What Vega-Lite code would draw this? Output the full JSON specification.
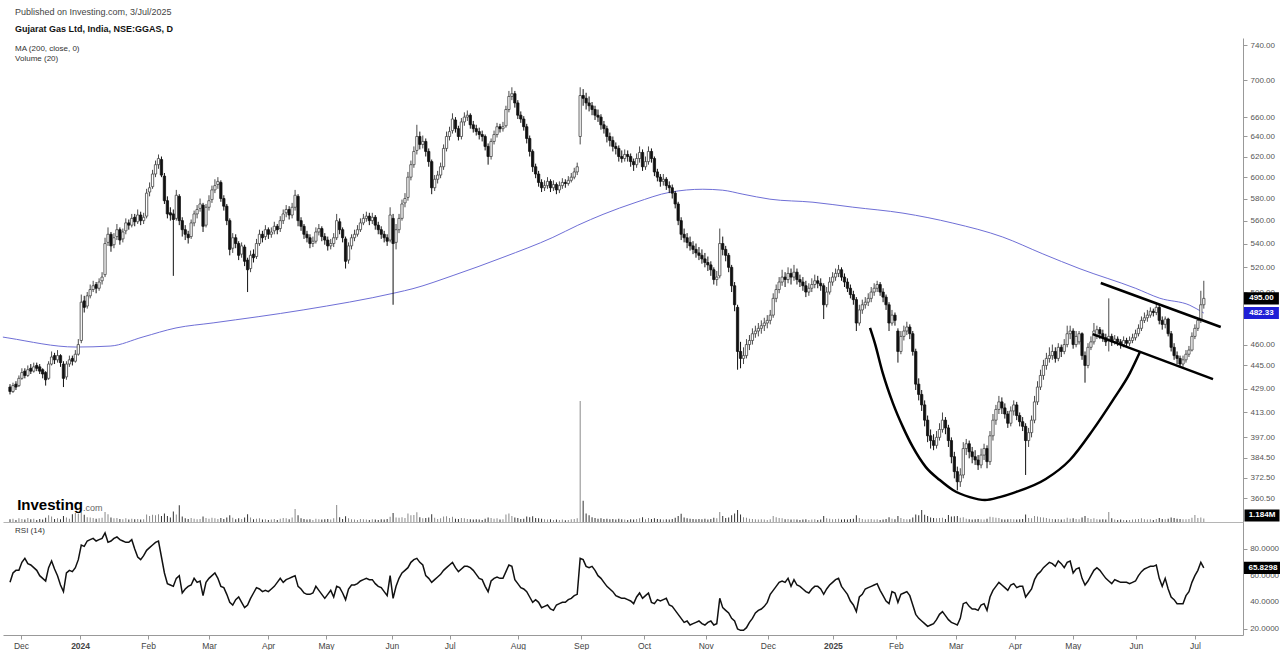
{
"$schema":"https://vega.github.io/schema/vega-lite/v6.json",
"background":"white",
"padding":{"left":0,"top":8,"right":0,"bottom":0},
"bounds":"flush",
"spacing":0,
"title":{"text":"Published on Investing.com, 3/Jul/2025","subtitle":"Gujarat Gas Ltd, India, NSE:GGAS, D","anchor":"start","frame":"group","dx":12,"fontSize":9,"fontWeight":"normal","color":"#444444","subtitleFontSize":9,"subtitleFontWeight":"bold","subtitleColor":"#111111","subtitlePadding":8,"offset":4,"font":"Liberation Sans","subtitleFont":"Liberation Sans"},
"config":{"font":"Liberation Sans","view":{"stroke":null},"axis":{"labelFont":"Liberation Sans","grid":false,"labelOverlap":false,"labelBound":false},"scale":{"continuousPadding":0}},
"datasets":{
"px":[
{"i":0,"o":430,"h":432,"l":425,"c":427,"v":900,"r":55},
{"i":1,"o":427,"h":433,"l":426,"c":431,"v":1100,"r":62},
{"i":2,"o":432,"h":434,"l":428,"c":430,"v":700,"r":64},
{"i":3,"o":431,"h":438,"l":430,"c":436,"v":1200,"r":64},
{"i":4,"o":436,"h":443,"l":435,"c":440,"v":1000,"r":70},
{"i":5,"o":441,"h":443,"l":436,"c":438,"v":800,"r":73},
{"i":6,"o":438,"h":445,"l":437,"c":442,"v":1300,"r":69},
{"i":7,"o":443,"h":446,"l":439,"c":441,"v":900,"r":68},
{"i":8,"o":441,"h":447,"l":440,"c":444,"v":1100,"r":66},
{"i":9,"o":445,"h":447,"l":441,"c":443,"v":700,"r":64},
{"i":10,"o":444,"h":446,"l":439,"c":441,"v":1000,"r":60},
{"i":11,"o":442,"h":443,"l":436,"c":439,"v":800,"r":58},
{"i":12,"o":440,"h":441,"l":431,"c":435,"v":1400,"r":56},
{"i":13,"o":436,"h":448,"l":435,"c":446,"v":2200,"r":66},
{"i":14,"o":446,"h":455,"l":445,"c":451,"v":1800,"r":71},
{"i":15,"o":452,"h":454,"l":446,"c":449,"v":1000,"r":65},
{"i":16,"o":449,"h":456,"l":447,"c":452,"v":1200,"r":60},
{"i":17,"o":452,"h":453,"l":444,"c":447,"v":900,"r":53},
{"i":18,"o":446,"h":448,"l":430,"c":436,"v":2000,"r":48},
{"i":19,"o":437,"h":448,"l":435,"c":446,"v":1500,"r":62},
{"i":20,"o":446,"h":452,"l":444,"c":449,"v":1100,"r":64},
{"i":21,"o":450,"h":452,"l":445,"c":448,"v":2600,"r":63},
{"i":22,"o":448,"h":456,"l":447,"c":453,"v":3000,"r":66},
{"i":23,"o":453,"h":464,"l":452,"c":460,"v":2800,"r":72},
{"i":24,"o":463,"h":498,"l":461,"c":492,"v":3400,"r":83},
{"i":25,"o":493,"h":497,"l":484,"c":488,"v":2400,"r":82},
{"i":26,"o":489,"h":500,"l":487,"c":497,"v":1600,"r":86},
{"i":27,"o":497,"h":506,"l":495,"c":502,"v":1500,"r":87},
{"i":28,"o":502,"h":509,"l":500,"c":505,"v":1300,"r":88},
{"i":29,"o":506,"h":508,"l":499,"c":503,"v":1100,"r":86},
{"i":30,"o":503,"h":511,"l":501,"c":508,"v":1200,"r":87},
{"i":31,"o":509,"h":516,"l":506,"c":512,"v":1400,"r":88},
{"i":32,"o":514,"h":545,"l":512,"c":540,"v":3300,"r":92},
{"i":33,"o":541,"h":554,"l":538,"c":548,"v":2600,"r":85},
{"i":34,"o":548,"h":550,"l":533,"c":538,"v":1500,"r":86},
{"i":35,"o":539,"h":549,"l":536,"c":545,"v":1200,"r":88},
{"i":36,"o":546,"h":557,"l":543,"c":552,"v":1300,"r":89},
{"i":37,"o":552,"h":554,"l":539,"c":543,"v":1000,"r":87},
{"i":38,"o":544,"h":553,"l":541,"c":550,"v":900,"r":86},
{"i":39,"o":551,"h":562,"l":548,"c":558,"v":1200,"r":85},
{"i":40,"o":558,"h":561,"l":552,"c":556,"v":800,"r":85},
{"i":41,"o":556,"h":566,"l":554,"c":562,"v":1100,"r":87},
{"i":42,"o":563,"h":566,"l":555,"c":559,"v":900,"r":80},
{"i":43,"o":559,"h":570,"l":557,"c":565,"v":1000,"r":74},
{"i":44,"o":565,"h":568,"l":556,"c":560,"v":800,"r":72},
{"i":45,"o":560,"h":567,"l":557,"c":563,"v":900,"r":75},
{"i":46,"o":564,"h":589,"l":562,"c":585,"v":2500,"r":79},
{"i":47,"o":586,"h":595,"l":582,"c":590,"v":2000,"r":81},
{"i":48,"o":591,"h":607,"l":589,"c":603,"v":2400,"r":83},
{"i":49,"o":603,"h":616,"l":600,"c":612,"v":2200,"r":85},
{"i":50,"o":612,"h":622,"l":608,"c":618,"v":2600,"r":86},
{"i":51,"o":617,"h":620,"l":600,"c":602,"v":2000,"r":74},
{"i":52,"o":601,"h":604,"l":575,"c":578,"v":2800,"r":62},
{"i":53,"o":578,"h":582,"l":562,"c":566,"v":2000,"r":54},
{"i":54,"o":567,"h":572,"l":560,"c":565,"v":1500,"r":53},
{"i":55,"o":566,"h":570,"l":513,"c":561,"v":3500,"r":52},
{"i":56,"o":562,"h":588,"l":560,"c":583,"v":2500,"r":58},
{"i":57,"o":582,"h":584,"l":556,"c":560,"v":5500,"r":60},
{"i":58,"o":560,"h":563,"l":546,"c":552,"v":1800,"r":47},
{"i":59,"o":552,"h":556,"l":543,"c":548,"v":1200,"r":50},
{"i":60,"o":548,"h":551,"l":540,"c":545,"v":1000,"r":52},
{"i":61,"o":546,"h":561,"l":544,"c":558,"v":1300,"r":53},
{"i":62,"o":558,"h":569,"l":555,"c":566,"v":1100,"r":58},
{"i":63,"o":566,"h":574,"l":562,"c":570,"v":900,"r":55},
{"i":64,"o":571,"h":580,"l":568,"c":575,"v":1000,"r":56},
{"i":65,"o":574,"h":576,"l":550,"c":555,"v":1800,"r":45},
{"i":66,"o":556,"h":575,"l":554,"c":572,"v":1300,"r":55},
{"i":67,"o":572,"h":583,"l":569,"c":578,"v":1100,"r":58},
{"i":68,"o":579,"h":592,"l":576,"c":588,"v":1400,"r":60},
{"i":69,"o":588,"h":598,"l":585,"c":592,"v":1200,"r":62},
{"i":70,"o":593,"h":600,"l":589,"c":596,"v":1000,"r":58},
{"i":71,"o":595,"h":597,"l":577,"c":580,"v":1300,"r":52},
{"i":72,"o":580,"h":583,"l":569,"c":573,"v":1000,"r":51},
{"i":73,"o":573,"h":575,"l":556,"c":560,"v":1500,"r":46},
{"i":74,"o":560,"h":562,"l":530,"c":535,"v":2200,"r":40},
{"i":75,"o":536,"h":549,"l":532,"c":545,"v":1400,"r":38},
{"i":76,"o":545,"h":548,"l":536,"c":540,"v":900,"r":42},
{"i":77,"o":540,"h":542,"l":526,"c":530,"v":1200,"r":44},
{"i":78,"o":531,"h":541,"l":528,"c":538,"v":1000,"r":40},
{"i":79,"o":537,"h":539,"l":521,"c":525,"v":1500,"r":36},
{"i":80,"o":526,"h":528,"l":500,"c":518,"v":2600,"r":38},
{"i":81,"o":519,"h":534,"l":516,"c":530,"v":1500,"r":43},
{"i":82,"o":531,"h":535,"l":524,"c":528,"v":900,"r":47},
{"i":83,"o":529,"h":544,"l":527,"c":540,"v":1100,"r":51},
{"i":84,"o":540,"h":552,"l":538,"c":548,"v":1200,"r":50},
{"i":85,"o":548,"h":551,"l":541,"c":545,"v":800,"r":48},
{"i":86,"o":546,"h":556,"l":543,"c":552,"v":900,"r":49},
{"i":87,"o":552,"h":554,"l":544,"c":548,"v":700,"r":48},
{"i":88,"o":548,"h":554,"l":545,"c":550,"v":800,"r":50},
{"i":89,"o":551,"h":559,"l":548,"c":555,"v":1000,"r":52},
{"i":90,"o":555,"h":557,"l":548,"c":552,"v":700,"r":55},
{"i":91,"o":553,"h":564,"l":550,"c":560,"v":1100,"r":58},
{"i":92,"o":560,"h":570,"l":557,"c":566,"v":1300,"r":55},
{"i":93,"o":567,"h":574,"l":563,"c":570,"v":1200,"r":57},
{"i":94,"o":570,"h":573,"l":561,"c":565,"v":900,"r":58},
{"i":95,"o":565,"h":576,"l":562,"c":572,"v":1500,"r":59},
{"i":96,"o":572,"h":588,"l":569,"c":583,"v":4300,"r":60},
{"i":97,"o":582,"h":584,"l":555,"c":560,"v":2200,"r":52},
{"i":98,"o":560,"h":563,"l":551,"c":555,"v":1200,"r":50},
{"i":99,"o":555,"h":557,"l":544,"c":548,"v":1000,"r":47},
{"i":100,"o":548,"h":551,"l":541,"c":545,"v":800,"r":46},
{"i":101,"o":545,"h":548,"l":536,"c":540,"v":900,"r":46},
{"i":102,"o":540,"h":546,"l":537,"c":542,"v":700,"r":47},
{"i":103,"o":542,"h":554,"l":540,"c":550,"v":1100,"r":52},
{"i":104,"o":550,"h":557,"l":547,"c":553,"v":900,"r":49},
{"i":105,"o":553,"h":555,"l":542,"c":546,"v":800,"r":46},
{"i":106,"o":546,"h":549,"l":539,"c":543,"v":900,"r":43},
{"i":107,"o":543,"h":546,"l":534,"c":538,"v":1000,"r":46},
{"i":108,"o":538,"h":544,"l":535,"c":540,"v":800,"r":49},
{"i":109,"o":540,"h":549,"l":537,"c":545,"v":1200,"r":44},
{"i":110,"o":545,"h":566,"l":543,"c":560,"v":5600,"r":52},
{"i":111,"o":559,"h":562,"l":548,"c":552,"v":1600,"r":51},
{"i":112,"o":552,"h":554,"l":541,"c":545,"v":1000,"r":47},
{"i":113,"o":544,"h":546,"l":519,"c":525,"v":1900,"r":42},
{"i":114,"o":526,"h":541,"l":523,"c":538,"v":1200,"r":50},
{"i":115,"o":538,"h":548,"l":535,"c":545,"v":900,"r":53},
{"i":116,"o":545,"h":552,"l":542,"c":548,"v":800,"r":53},
{"i":117,"o":548,"h":556,"l":546,"c":552,"v":700,"r":54},
{"i":118,"o":552,"h":562,"l":550,"c":558,"v":1000,"r":56},
{"i":119,"o":558,"h":566,"l":556,"c":562,"v":900,"r":57},
{"i":120,"o":562,"h":568,"l":559,"c":564,"v":800,"r":58},
{"i":121,"o":564,"h":567,"l":556,"c":560,"v":700,"r":57},
{"i":122,"o":560,"h":567,"l":557,"c":563,"v":900,"r":57},
{"i":123,"o":563,"h":565,"l":552,"c":556,"v":800,"r":54},
{"i":124,"o":556,"h":559,"l":548,"c":552,"v":700,"r":52},
{"i":125,"o":552,"h":555,"l":544,"c":548,"v":900,"r":51},
{"i":126,"o":548,"h":551,"l":541,"c":545,"v":800,"r":48},
{"i":127,"o":545,"h":548,"l":538,"c":542,"v":1000,"r":45},
{"i":128,"o":543,"h":572,"l":541,"c":565,"v":1700,"r":60},
{"i":129,"o":562,"h":566,"l":490,"c":540,"v":3000,"r":43},
{"i":130,"o":541,"h":557,"l":535,"c":552,"v":1500,"r":52},
{"i":131,"o":552,"h":566,"l":549,"c":562,"v":1400,"r":58},
{"i":132,"o":562,"h":579,"l":560,"c":575,"v":1600,"r":62},
{"i":133,"o":576,"h":585,"l":572,"c":580,"v":1300,"r":64},
{"i":134,"o":581,"h":605,"l":578,"c":600,"v":2800,"r":66},
{"i":135,"o":600,"h":616,"l":597,"c":612,"v":2200,"r":70},
{"i":136,"o":612,"h":630,"l":609,"c":625,"v":2300,"r":72},
{"i":137,"o":626,"h":652,"l":622,"c":640,"v":3200,"r":73},
{"i":138,"o":640,"h":645,"l":627,"c":632,"v":1600,"r":70},
{"i":139,"o":632,"h":641,"l":628,"c":635,"v":1200,"r":68},
{"i":140,"o":635,"h":638,"l":620,"c":625,"v":1300,"r":60},
{"i":141,"o":625,"h":628,"l":610,"c":615,"v":1500,"r":58},
{"i":142,"o":615,"h":617,"l":584,"c":590,"v":2600,"r":55},
{"i":143,"o":590,"h":602,"l":587,"c":598,"v":1400,"r":57},
{"i":144,"o":598,"h":606,"l":594,"c":602,"v":1000,"r":59},
{"i":145,"o":602,"h":614,"l":599,"c":610,"v":1200,"r":61},
{"i":146,"o":610,"h":632,"l":607,"c":628,"v":1800,"r":64},
{"i":147,"o":628,"h":645,"l":625,"c":640,"v":1900,"r":66},
{"i":148,"o":640,"h":650,"l":636,"c":645,"v":1300,"r":68},
{"i":149,"o":646,"h":664,"l":643,"c":658,"v":1700,"r":70},
{"i":150,"o":657,"h":660,"l":644,"c":648,"v":1100,"r":66},
{"i":151,"o":648,"h":651,"l":636,"c":640,"v":1000,"r":63},
{"i":152,"o":640,"h":659,"l":637,"c":655,"v":1300,"r":65},
{"i":153,"o":655,"h":665,"l":651,"c":660,"v":1200,"r":67},
{"i":154,"o":660,"h":667,"l":656,"c":662,"v":1000,"r":67},
{"i":155,"o":662,"h":664,"l":648,"c":652,"v":900,"r":66},
{"i":156,"o":652,"h":656,"l":644,"c":648,"v":800,"r":64},
{"i":157,"o":648,"h":652,"l":641,"c":645,"v":900,"r":61},
{"i":158,"o":645,"h":649,"l":637,"c":642,"v":800,"r":58},
{"i":159,"o":642,"h":646,"l":635,"c":640,"v":700,"r":57},
{"i":160,"o":640,"h":642,"l":626,"c":630,"v":1100,"r":52},
{"i":161,"o":630,"h":633,"l":612,"c":620,"v":1500,"r":48},
{"i":162,"o":620,"h":638,"l":617,"c":635,"v":1300,"r":56},
{"i":163,"o":635,"h":646,"l":632,"c":642,"v":1100,"r":58},
{"i":164,"o":642,"h":654,"l":639,"c":650,"v":1200,"r":59},
{"i":165,"o":650,"h":653,"l":644,"c":648,"v":800,"r":58},
{"i":166,"o":648,"h":655,"l":645,"c":650,"v":900,"r":58},
{"i":167,"o":651,"h":672,"l":649,"c":668,"v":2500,"r":63},
{"i":168,"o":668,"h":688,"l":665,"c":682,"v":2800,"r":68},
{"i":169,"o":682,"h":692,"l":678,"c":685,"v":2000,"r":67},
{"i":170,"o":685,"h":688,"l":670,"c":675,"v":1500,"r":57},
{"i":171,"o":675,"h":678,"l":658,"c":662,"v":1300,"r":54},
{"i":172,"o":662,"h":666,"l":654,"c":658,"v":1000,"r":51},
{"i":173,"o":658,"h":661,"l":646,"c":650,"v":1100,"r":50},
{"i":174,"o":650,"h":653,"l":633,"c":638,"v":1800,"r":48},
{"i":175,"o":638,"h":641,"l":620,"c":625,"v":1600,"r":44},
{"i":176,"o":625,"h":627,"l":605,"c":610,"v":1900,"r":40},
{"i":177,"o":610,"h":613,"l":599,"c":603,"v":1300,"r":42},
{"i":178,"o":603,"h":606,"l":591,"c":595,"v":1200,"r":40},
{"i":179,"o":595,"h":598,"l":586,"c":590,"v":1100,"r":36},
{"i":180,"o":590,"h":597,"l":587,"c":592,"v":900,"r":37},
{"i":181,"o":592,"h":600,"l":589,"c":596,"v":800,"r":38},
{"i":182,"o":596,"h":598,"l":586,"c":590,"v":900,"r":35},
{"i":183,"o":590,"h":597,"l":587,"c":593,"v":700,"r":34},
{"i":184,"o":593,"h":595,"l":584,"c":588,"v":800,"r":38},
{"i":185,"o":588,"h":596,"l":585,"c":592,"v":700,"r":39},
{"i":186,"o":592,"h":599,"l":589,"c":595,"v":800,"r":40},
{"i":187,"o":595,"h":598,"l":590,"c":594,"v":600,"r":40},
{"i":188,"o":594,"h":601,"l":592,"c":597,"v":700,"r":42},
{"i":189,"o":597,"h":604,"l":595,"c":600,"v":900,"r":43},
{"i":190,"o":600,"h":609,"l":598,"c":605,"v":1000,"r":45},
{"i":191,"o":605,"h":614,"l":602,"c":610,"v":1200,"r":46},
{"i":192,"o":640,"h":692,"l":632,"c":683,"v":40000,"r":73},
{"i":193,"o":683,"h":690,"l":672,"c":680,"v":7000,"r":72},
{"i":194,"o":680,"h":686,"l":668,"c":675,"v":2800,"r":67},
{"i":195,"o":675,"h":682,"l":666,"c":672,"v":2200,"r":66},
{"i":196,"o":672,"h":676,"l":662,"c":668,"v":1600,"r":67},
{"i":197,"o":668,"h":672,"l":657,"c":662,"v":1300,"r":64},
{"i":198,"o":662,"h":668,"l":655,"c":660,"v":1100,"r":60},
{"i":199,"o":660,"h":663,"l":647,"c":652,"v":1200,"r":58},
{"i":200,"o":652,"h":656,"l":643,"c":648,"v":1000,"r":55},
{"i":201,"o":648,"h":651,"l":634,"c":640,"v":1100,"r":52},
{"i":202,"o":640,"h":644,"l":630,"c":636,"v":900,"r":50},
{"i":203,"o":636,"h":640,"l":625,"c":630,"v":1000,"r":48},
{"i":204,"o":630,"h":634,"l":622,"c":628,"v":800,"r":45},
{"i":205,"o":628,"h":631,"l":615,"c":620,"v":1100,"r":44},
{"i":206,"o":620,"h":626,"l":614,"c":618,"v":900,"r":43},
{"i":207,"o":618,"h":627,"l":615,"c":622,"v":800,"r":43},
{"i":208,"o":622,"h":626,"l":615,"c":620,"v":700,"r":42},
{"i":209,"o":620,"h":623,"l":610,"c":615,"v":900,"r":41},
{"i":210,"o":615,"h":618,"l":606,"c":612,"v":800,"r":39},
{"i":211,"o":612,"h":623,"l":609,"c":618,"v":1000,"r":44},
{"i":212,"o":618,"h":630,"l":614,"c":624,"v":1200,"r":47},
{"i":213,"o":624,"h":627,"l":606,"c":610,"v":1600,"r":43},
{"i":214,"o":610,"h":620,"l":607,"c":615,"v":900,"r":45},
{"i":215,"o":615,"h":630,"l":612,"c":625,"v":1300,"r":47},
{"i":216,"o":625,"h":628,"l":614,"c":618,"v":1000,"r":40},
{"i":217,"o":618,"h":620,"l":601,"c":605,"v":1200,"r":39},
{"i":218,"o":605,"h":608,"l":596,"c":600,"v":1000,"r":42},
{"i":219,"o":600,"h":603,"l":591,"c":596,"v":900,"r":41},
{"i":220,"o":596,"h":603,"l":592,"c":598,"v":800,"r":42},
{"i":221,"o":598,"h":600,"l":588,"c":592,"v":900,"r":43},
{"i":222,"o":592,"h":596,"l":585,"c":590,"v":800,"r":38},
{"i":223,"o":590,"h":593,"l":580,"c":585,"v":1000,"r":37},
{"i":224,"o":585,"h":587,"l":571,"c":575,"v":1400,"r":34},
{"i":225,"o":575,"h":577,"l":556,"c":560,"v":2000,"r":31},
{"i":226,"o":560,"h":563,"l":543,"c":548,"v":2700,"r":28},
{"i":227,"o":548,"h":553,"l":541,"c":545,"v":1500,"r":25},
{"i":228,"o":545,"h":549,"l":536,"c":541,"v":1200,"r":26},
{"i":229,"o":541,"h":546,"l":534,"c":538,"v":1100,"r":23},
{"i":230,"o":538,"h":542,"l":531,"c":535,"v":1000,"r":24},
{"i":231,"o":535,"h":540,"l":528,"c":532,"v":900,"r":25},
{"i":232,"o":532,"h":537,"l":526,"c":530,"v":1000,"r":26},
{"i":233,"o":530,"h":535,"l":523,"c":527,"v":900,"r":24},
{"i":234,"o":527,"h":532,"l":520,"c":524,"v":1100,"r":23},
{"i":235,"o":524,"h":529,"l":517,"c":522,"v":800,"r":25},
{"i":236,"o":522,"h":525,"l":513,"c":518,"v":1000,"r":26},
{"i":237,"o":518,"h":520,"l":506,"c":510,"v":1400,"r":23},
{"i":238,"o":510,"h":517,"l":505,"c":512,"v":1200,"r":24},
{"i":239,"o":513,"h":553,"l":511,"c":540,"v":3300,"r":43},
{"i":240,"o":540,"h":546,"l":530,"c":535,"v":2000,"r":36},
{"i":241,"o":535,"h":538,"l":525,"c":530,"v":1300,"r":34},
{"i":242,"o":530,"h":532,"l":516,"c":520,"v":1500,"r":32},
{"i":243,"o":520,"h":522,"l":500,"c":505,"v":2200,"r":28},
{"i":244,"o":505,"h":508,"l":485,"c":490,"v":2800,"r":26},
{"i":245,"o":488,"h":490,"l":442,"c":455,"v":4000,"r":20},
{"i":246,"o":455,"h":462,"l":443,"c":450,"v":2500,"r":19},
{"i":247,"o":450,"h":458,"l":446,"c":452,"v":1600,"r":19},
{"i":248,"o":452,"h":464,"l":450,"c":460,"v":1400,"r":21},
{"i":249,"o":460,"h":467,"l":456,"c":463,"v":1100,"r":25},
{"i":250,"o":463,"h":472,"l":460,"c":468,"v":1000,"r":28},
{"i":251,"o":468,"h":474,"l":465,"c":470,"v":900,"r":32},
{"i":252,"o":470,"h":476,"l":466,"c":472,"v":800,"r":34},
{"i":253,"o":472,"h":478,"l":468,"c":474,"v":900,"r":35},
{"i":254,"o":474,"h":480,"l":470,"c":476,"v":800,"r":37},
{"i":255,"o":476,"h":482,"l":472,"c":478,"v":700,"r":40},
{"i":256,"o":478,"h":486,"l":475,"c":482,"v":900,"r":46},
{"i":257,"o":482,"h":499,"l":480,"c":495,"v":2000,"r":49},
{"i":258,"o":495,"h":506,"l":492,"c":502,"v":1600,"r":52},
{"i":259,"o":502,"h":512,"l":499,"c":508,"v":1300,"r":55},
{"i":260,"o":508,"h":518,"l":505,"c":512,"v":1200,"r":56},
{"i":261,"o":512,"h":516,"l":504,"c":510,"v":900,"r":55},
{"i":262,"o":510,"h":520,"l":507,"c":515,"v":1000,"r":58},
{"i":263,"o":515,"h":519,"l":506,"c":512,"v":800,"r":52},
{"i":264,"o":512,"h":522,"l":509,"c":516,"v":900,"r":57},
{"i":265,"o":516,"h":519,"l":506,"c":510,"v":800,"r":53},
{"i":266,"o":510,"h":514,"l":504,"c":508,"v":700,"r":52},
{"i":267,"o":508,"h":512,"l":501,"c":505,"v":800,"r":50},
{"i":268,"o":505,"h":509,"l":496,"c":500,"v":900,"r":48},
{"i":269,"o":500,"h":507,"l":497,"c":503,"v":700,"r":47},
{"i":270,"o":503,"h":511,"l":500,"c":506,"v":800,"r":50},
{"i":271,"o":506,"h":514,"l":503,"c":509,"v":900,"r":52},
{"i":272,"o":509,"h":513,"l":503,"c":507,"v":700,"r":52},
{"i":273,"o":507,"h":511,"l":501,"c":505,"v":800,"r":50},
{"i":274,"o":505,"h":507,"l":479,"c":490,"v":2000,"r":46},
{"i":275,"o":490,"h":504,"l":488,"c":500,"v":1200,"r":50},
{"i":276,"o":500,"h":512,"l":498,"c":508,"v":1100,"r":53},
{"i":277,"o":508,"h":516,"l":505,"c":512,"v":900,"r":55},
{"i":278,"o":512,"h":519,"l":509,"c":515,"v":1000,"r":57},
{"i":279,"o":515,"h":522,"l":512,"c":518,"v":1100,"r":58},
{"i":280,"o":518,"h":520,"l":509,"c":512,"v":800,"r":52},
{"i":281,"o":512,"h":515,"l":504,"c":508,"v":900,"r":49},
{"i":282,"o":508,"h":511,"l":500,"c":503,"v":800,"r":46},
{"i":283,"o":503,"h":506,"l":495,"c":498,"v":1000,"r":41},
{"i":284,"o":498,"h":501,"l":490,"c":494,"v":1100,"r":38},
{"i":285,"o":494,"h":496,"l":470,"c":476,"v":2200,"r":33},
{"i":286,"o":476,"h":490,"l":474,"c":486,"v":1300,"r":44},
{"i":287,"o":486,"h":494,"l":483,"c":490,"v":1000,"r":46},
{"i":288,"o":490,"h":496,"l":487,"c":492,"v":800,"r":50},
{"i":289,"o":492,"h":499,"l":489,"c":495,"v":900,"r":51},
{"i":290,"o":495,"h":504,"l":492,"c":500,"v":1000,"r":52},
{"i":291,"o":500,"h":507,"l":497,"c":503,"v":800,"r":53},
{"i":292,"o":503,"h":509,"l":500,"c":506,"v":900,"r":54},
{"i":293,"o":506,"h":508,"l":497,"c":500,"v":700,"r":49},
{"i":294,"o":500,"h":503,"l":492,"c":496,"v":800,"r":45},
{"i":295,"o":496,"h":498,"l":486,"c":490,"v":1000,"r":41},
{"i":296,"o":490,"h":492,"l":470,"c":476,"v":1600,"r":39},
{"i":297,"o":476,"h":486,"l":474,"c":482,"v":1100,"r":48},
{"i":298,"o":482,"h":484,"l":474,"c":478,"v":900,"r":47},
{"i":299,"o":470,"h":472,"l":447,"c":455,"v":2000,"r":40},
{"i":300,"o":455,"h":470,"l":453,"c":466,"v":1300,"r":46},
{"i":301,"o":466,"h":474,"l":463,"c":470,"v":1000,"r":47},
{"i":302,"o":470,"h":477,"l":467,"c":473,"v":900,"r":48},
{"i":303,"o":473,"h":475,"l":464,"c":468,"v":900,"r":45},
{"i":304,"o":468,"h":470,"l":452,"c":455,"v":1500,"r":38},
{"i":305,"o":455,"h":457,"l":428,"c":432,"v":2500,"r":31},
{"i":306,"o":432,"h":436,"l":421,"c":425,"v":2200,"r":28},
{"i":307,"o":425,"h":428,"l":414,"c":418,"v":4000,"r":26},
{"i":308,"o":418,"h":421,"l":404,"c":408,"v":2400,"r":24},
{"i":309,"o":408,"h":411,"l":394,"c":398,"v":2000,"r":22},
{"i":310,"o":398,"h":402,"l":390,"c":395,"v":1500,"r":23},
{"i":311,"o":395,"h":399,"l":389,"c":392,"v":1300,"r":24},
{"i":312,"o":392,"h":401,"l":390,"c":397,"v":1200,"r":27},
{"i":313,"o":397,"h":406,"l":395,"c":402,"v":1300,"r":31},
{"i":314,"o":402,"h":413,"l":400,"c":408,"v":1400,"r":33},
{"i":315,"o":408,"h":410,"l":399,"c":403,"v":1000,"r":30},
{"i":316,"o":403,"h":405,"l":391,"c":395,"v":2300,"r":27},
{"i":317,"o":395,"h":397,"l":381,"c":385,"v":1800,"r":25},
{"i":318,"o":385,"h":388,"l":372,"c":376,"v":1900,"r":24},
{"i":319,"o":376,"h":379,"l":365,"c":370,"v":2000,"r":23},
{"i":320,"o":370,"h":378,"l":367,"c":374,"v":1400,"r":28},
{"i":321,"o":374,"h":394,"l":372,"c":390,"v":1600,"r":39},
{"i":322,"o":390,"h":396,"l":386,"c":393,"v":1100,"r":40},
{"i":323,"o":393,"h":395,"l":384,"c":388,"v":900,"r":37},
{"i":324,"o":388,"h":391,"l":381,"c":385,"v":800,"r":35},
{"i":325,"o":385,"h":389,"l":380,"c":383,"v":900,"r":35},
{"i":326,"o":383,"h":386,"l":377,"c":380,"v":1000,"r":34},
{"i":327,"o":380,"h":390,"l":378,"c":386,"v":900,"r":38},
{"i":328,"o":386,"h":393,"l":383,"c":390,"v":800,"r":39},
{"i":329,"o":390,"h":392,"l":378,"c":382,"v":1100,"r":34},
{"i":330,"o":382,"h":401,"l":380,"c":398,"v":1700,"r":44},
{"i":331,"o":398,"h":412,"l":395,"c":408,"v":1600,"r":49},
{"i":332,"o":408,"h":418,"l":405,"c":415,"v":1400,"r":52},
{"i":333,"o":415,"h":424,"l":412,"c":420,"v":1300,"r":55},
{"i":334,"o":420,"h":423,"l":412,"c":416,"v":900,"r":53},
{"i":335,"o":416,"h":419,"l":409,"c":412,"v":800,"r":51},
{"i":336,"o":412,"h":414,"l":403,"c":406,"v":900,"r":49},
{"i":337,"o":406,"h":417,"l":404,"c":414,"v":1000,"r":53},
{"i":338,"o":414,"h":421,"l":411,"c":418,"v":900,"r":54},
{"i":339,"o":418,"h":420,"l":408,"c":411,"v":800,"r":51},
{"i":340,"o":411,"h":413,"l":404,"c":407,"v":900,"r":52},
{"i":341,"o":407,"h":410,"l":401,"c":404,"v":1000,"r":52},
{"i":342,"o":404,"h":406,"l":374,"c":395,"v":2500,"r":44},
{"i":343,"o":395,"h":403,"l":391,"c":400,"v":1300,"r":47},
{"i":344,"o":400,"h":411,"l":397,"c":408,"v":1200,"r":50},
{"i":345,"o":408,"h":424,"l":406,"c":420,"v":2000,"r":57},
{"i":346,"o":420,"h":434,"l":418,"c":430,"v":1800,"r":61},
{"i":347,"o":430,"h":442,"l":428,"c":438,"v":1600,"r":63},
{"i":348,"o":438,"h":449,"l":435,"c":445,"v":1500,"r":66},
{"i":349,"o":445,"h":454,"l":442,"c":450,"v":1300,"r":68},
{"i":350,"o":450,"h":458,"l":447,"c":452,"v":1100,"r":70},
{"i":351,"o":452,"h":460,"l":449,"c":455,"v":1000,"r":69},
{"i":352,"o":455,"h":458,"l":447,"c":450,"v":900,"r":67},
{"i":353,"o":450,"h":461,"l":448,"c":458,"v":1000,"r":71},
{"i":354,"o":458,"h":460,"l":451,"c":455,"v":800,"r":69},
{"i":355,"o":455,"h":464,"l":453,"c":460,"v":900,"r":66},
{"i":356,"o":460,"h":474,"l":458,"c":468,"v":1400,"r":70},
{"i":357,"o":468,"h":474,"l":464,"c":470,"v":1100,"r":71},
{"i":358,"o":470,"h":472,"l":457,"c":460,"v":1200,"r":62},
{"i":359,"o":460,"h":470,"l":458,"c":466,"v":1000,"r":65},
{"i":360,"o":462,"h":470,"l":460,"c":468,"v":900,"r":66},
{"i":361,"o":468,"h":469,"l":449,"c":452,"v":1500,"r":58},
{"i":362,"o":452,"h":455,"l":433,"c":445,"v":2000,"r":53},
{"i":363,"o":445,"h":461,"l":443,"c":458,"v":1300,"r":56},
{"i":364,"o":458,"h":466,"l":456,"c":462,"v":1000,"r":60},
{"i":365,"o":462,"h":476,"l":460,"c":470,"v":1200,"r":64},
{"i":366,"o":466,"h":474,"l":464,"c":471,"v":900,"r":66},
{"i":367,"o":471,"h":473,"l":464,"c":468,"v":800,"r":64},
{"i":368,"o":468,"h":471,"l":462,"c":465,"v":900,"r":61},
{"i":369,"o":465,"h":468,"l":459,"c":462,"v":800,"r":58},
{"i":370,"o":464,"h":495,"l":455,"c":466,"v":3300,"r":56},
{"i":371,"o":466,"h":468,"l":459,"c":462,"v":1200,"r":54},
{"i":372,"o":462,"h":467,"l":460,"c":464,"v":800,"r":57},
{"i":373,"o":464,"h":466,"l":459,"c":462,"v":700,"r":56},
{"i":374,"o":462,"h":464,"l":457,"c":460,"v":800,"r":55},
{"i":375,"o":460,"h":466,"l":458,"c":463,"v":700,"r":55},
{"i":376,"o":463,"h":465,"l":458,"c":461,"v":600,"r":55},
{"i":377,"o":461,"h":466,"l":459,"c":463,"v":700,"r":54},
{"i":378,"o":463,"h":468,"l":461,"c":465,"v":800,"r":55},
{"i":379,"o":465,"h":471,"l":463,"c":468,"v":900,"r":56},
{"i":380,"o":468,"h":475,"l":466,"c":472,"v":1000,"r":60},
{"i":381,"o":472,"h":481,"l":470,"c":478,"v":1200,"r":63},
{"i":382,"o":478,"h":484,"l":476,"c":480,"v":900,"r":65},
{"i":383,"o":480,"h":486,"l":477,"c":482,"v":800,"r":66},
{"i":384,"o":482,"h":488,"l":480,"c":485,"v":900,"r":67},
{"i":385,"o":485,"h":487,"l":481,"c":484,"v":700,"r":67},
{"i":386,"o":484,"h":492,"l":482,"c":488,"v":1000,"r":68},
{"i":387,"o":488,"h":490,"l":475,"c":478,"v":1300,"r":58},
{"i":388,"o":478,"h":481,"l":471,"c":475,"v":1000,"r":52},
{"i":389,"o":475,"h":481,"l":472,"c":479,"v":900,"r":58},
{"i":390,"o":479,"h":480,"l":466,"c":468,"v":1100,"r":50},
{"i":391,"o":468,"h":470,"l":455,"c":458,"v":1500,"r":44},
{"i":392,"o":458,"h":461,"l":449,"c":452,"v":1300,"r":42},
{"i":393,"o":452,"h":455,"l":446,"c":450,"v":1100,"r":39},
{"i":394,"o":450,"h":452,"l":444,"c":446,"v":1000,"r":39},
{"i":395,"o":446,"h":452,"l":444,"c":449,"v":900,"r":39},
{"i":396,"o":449,"h":456,"l":447,"c":453,"v":900,"r":45},
{"i":397,"o":453,"h":459,"l":451,"c":456,"v":1000,"r":48},
{"i":398,"o":456,"h":469,"l":455,"c":466,"v":1400,"r":55},
{"i":399,"o":466,"h":475,"l":464,"c":472,"v":2300,"r":60},
{"i":400,"o":472,"h":480,"l":470,"c":478,"v":1300,"r":64},
{"i":401,"o":478,"h":501,"l":476,"c":490,"v":1500,"r":70},
{"i":402,"o":490,"h":509,"l":487,"c":495,"v":1184,"r":65.8298}
],
"ma":[
{"i":-2.4,"m":465.5},{"i":-0.7,"m":464.9},{"i":22.2,"m":458.2},{"i":33.7,"m":458.9},{"i":44.8,"m":465.6},{"i":55.9,"m":472.3},{"i":68.4,"m":476.1},{"i":98.7,"m":486},{"i":130,"m":499.5},{"i":135.7,"m":502.7},{"i":149.2,"m":513.3},{"i":166,"m":528.3},{"i":182.8,"m":545.3},{"i":191.2,"m":555.9},{"i":199.7,"m":565.6},{"i":210.8,"m":576.5},{"i":222.2,"m":585.8},{"i":233.3,"m":588.6},{"i":240,"m":587.7},{"i":246.8,"m":584},{"i":255.9,"m":579.4},{"i":270.4,"m":576.6},{"i":283.8,"m":572.1},{"i":300.7,"m":566.7},{"i":317.5,"m":557.8},{"i":334.3,"m":545.6},{"i":347.8,"m":531.2},{"i":360.3,"m":518.8},{"i":379.1,"m":502.9},{"i":387.2,"m":495.1},{"i":397.3,"m":489.6},{"i":402,"m":483.6}
],
"tl":[
{"g":"u","i":367.3,"p":507.2},{"g":"u","i":407.7,"p":473.0},{"g":"l","i":364.6,"p":467.7},{"g":"l","i":405.1,"p":435.5}
],
"cup":[
{"i":289.6,"p":472.3},{"i":291.2,"p":461.2},{"i":293.9,"p":439.6},{"i":297.3,"p":419.2},{"i":300.7,"p":403.5},{"i":304.0,"p":391.0},{"i":308.4,"p":378.7},{"i":313.1,"p":371.0},{"i":317.5,"p":365.2},{"i":323.2,"p":361.1},{"i":328.3,"p":359.4},{"i":333.3,"p":361.1},{"i":337.7,"p":363.4},{"i":348.8,"p":371.6},{"i":356.9,"p":383.0},{"i":364.6,"p":401.6},{"i":371.4,"p":421.2},{"i":377.1,"p":439.6},{"i":380.5,"p":454.6}
],
"rl":[
{"i":417.6,"r":20,"t":"20.0000"},{"i":417.6,"r":40,"t":"40.0000"},{"i":417.6,"r":60,"t":"60.0000"},{"i":417.6,"r":80,"t":"80.0000"}
]
},
"vconcat":[
{
"width":1240,"height":484,
"layer":[
{
"layer":[
{"data":{"name":"px"},"mark":{"type":"bar","size":1},
"encoding":{
"x":{"field":"i","type":"quantitative","scale":{"domain":[-2.36,415.2],"nice":false,"zero":false,"padding":0},"axis":{"orient":"bottom","labels":false,"ticks":false,"domainColor":"#b5b5b5","title":null,"grid":false}},
"y":{"field":"v","type":"quantitative","scale":{"domain":[0,160000],"nice":false},"axis":null},
"color":{"condition":{"test":"datum.c >= datum.o","value":"#8a8a8a"},"value":"#333333"}}},
{"data":{"values":[{"i":421.6,"v":1184}]},"mark":{"type":"point","shape":"M-1.45,-0.5L1.45,-0.5L1.45,0.5L-1.45,0.5Z","size":583,"filled":true,"color":"#000000","opacity":1,"yOffset":-3},
"encoding":{"x":{"field":"i","type":"quantitative"},"y":{"field":"v","type":"quantitative"}}},
{"data":{"values":[{"i":421.6,"v":1184,"t":"1.184M"}]},"mark":{"type":"text","color":"#ffffff","fontSize":8,"fontWeight":"bold","align":"center","baseline":"middle","yOffset":-3},
"encoding":{"x":{"field":"i","type":"quantitative"},"y":{"field":"v","type":"quantitative"},"text":{"field":"t"}}}
]
},
{
"layer":[
{"data":{"name":"ma"},"mark":{"type":"line","color":"#6f6fd6","strokeWidth":1,"interpolate":"monotone"},
"encoding":{
"x":{"field":"i","type":"quantitative"},
"y":{"field":"m","type":"quantitative","scale":{"type":"log","domain":[347.1,748.3],"nice":false},
"axis":{"orient":"right","values":[360.5,372.5,384.5,397,413,429,445,460,500,520,540,560,580,600,620,640,660,700,740],"format":".2f","labelFontSize":8,"labelColor":"#555555","tickColor":"#999999","tickSize":4,"domainColor":"#999999","title":null,"grid":false,"labelPadding":3,"labelOverlap":false}}}},
{"data":{"name":"px"},"mark":{"type":"rule","strokeWidth":1},
"encoding":{"x":{"field":"i","type":"quantitative"},"y":{"field":"l","type":"quantitative"},"y2":{"field":"h"},
"color":{"condition":{"test":"datum.c >= datum.o","value":"#4a4a4a"},"value":"#111111"}}},
{"data":{"name":"px"},"mark":{"type":"bar","size":2.3,"strokeWidth":0.8},
"encoding":{"x":{"field":"i","type":"quantitative"},"y":{"field":"o","type":"quantitative"},"y2":{"field":"c"},
"fill":{"condition":{"test":"datum.c >= datum.o","value":"#ffffff"},"value":"#111111"},
"stroke":{"condition":{"test":"datum.c >= datum.o","value":"#444444"},"value":"#111111"}}},
{"data":{"name":"tl"},"mark":{"type":"line","color":"#000000","strokeWidth":2.5},
"encoding":{"x":{"field":"i","type":"quantitative"},"y":{"field":"p","type":"quantitative"},"detail":{"field":"g"}}},
{"data":{"name":"cup"},"mark":{"type":"line","color":"#000000","strokeWidth":2.5,"interpolate":"monotone"},
"encoding":{"x":{"field":"i","type":"quantitative"},"y":{"field":"p","type":"quantitative"}}},
{"data":{"values":[{"i":421.4,"p":495,"b":"#000000"},{"i":421.4,"p":483.6,"b":"#1f1fd6"}]},
"mark":{"type":"point","shape":"M-1.45,-0.5L1.45,-0.5L1.45,0.5L-1.45,0.5Z","size":583,"filled":true,"opacity":1},
"encoding":{"x":{"field":"i","type":"quantitative"},"y":{"field":"p","type":"quantitative"},"color":{"field":"b","type":"nominal","scale":null}}},
{"data":{"values":[{"i":421.4,"p":495,"t":"495.00"},{"i":421.4,"p":483.6,"t":"482.33"}]},
"mark":{"type":"text","color":"#ffffff","fontSize":8,"fontWeight":"bold","align":"center","baseline":"middle"},
"encoding":{"x":{"field":"i","type":"quantitative"},"y":{"field":"p","type":"quantitative"},"text":{"field":"t"}}},
{"data":{"values":[{"i":1.7,"p":735.3,"t":"MA (200, close, 0)"},{"i":1.7,"p":723.7,"t":"Volume (20)"}]},
"mark":{"type":"text","color":"#333333","fontSize":8,"align":"left","baseline":"middle"},
"encoding":{"x":{"field":"i","type":"quantitative"},"y":{"field":"p","type":"quantitative"},"text":{"field":"t"}}},
{"data":{"values":[{"i":2.4,"p":356.6,"t":"Investing"}]},
"mark":{"type":"text","color":"#000000","fontSize":15,"fontWeight":"bold","align":"left","baseline":"middle"},
"encoding":{"x":{"field":"i","type":"quantitative"},"y":{"field":"p","type":"quantitative"},"text":{"field":"t"}}},
{"data":{"values":[{"i":24.6,"p":354.8,"t":".com"}]},
"mark":{"type":"text","color":"#666666","fontSize":9,"align":"left","baseline":"middle"},
"encoding":{"x":{"field":"i","type":"quantitative"},"y":{"field":"p","type":"quantitative"},"text":{"field":"t"}}}
]
}
],
"resolve":{"scale":{"y":"independent"}}
},
{
"width":1240,"height":113,
"layer":[
{"data":{"name":"px"},"mark":{"type":"line","color":"#111111","strokeWidth":1.5},
"encoding":{
"x":{"field":"i","type":"quantitative","scale":{"domain":[-2.36,415.2],"nice":false,"zero":false,"padding":0},
"axis":{"orient":"bottom","values":[3.7,23.6,46.5,67,86.9,106.4,128.6,148.1,171,192.3,213.5,234.3,255.2,277.1,298.3,318.5,338.4,357.9,379.1,399],
"labelExpr":"['Dec','2024','Feb','Mar','Apr','May','Jun','Jul','Aug','Sep','Oct','Nov','Dec','2025','Feb','Mar','Apr','May','Jun','Jul'][indexof([3.7,23.6,46.5,67,86.9,106.4,128.6,148.1,171,192.3,213.5,234.3,255.2,277.1,298.3,318.5,338.4,357.9,379.1,399], datum.value)]",
"labelFontWeight":{"condition":{"test":"datum.value == 23.6 || datum.value == 277.1","value":"bold"},"value":"normal"},
"labelFontSize":8.5,"labelColor":"#444444","tickColor":"#999999","tickSize":4,"domainColor":"#999999","labelPadding":2,"title":null,"grid":false,"labelOverlap":false}},
"y":{"field":"r","type":"quantitative","scale":{"domain":[15.5,100.25],"nice":false,"zero":false},
"axis":{"orient":"right","values":[20,40,60,80],"labels":false,"tickColor":"#999999","tickSize":4,"domainColor":"#999999","title":null,"grid":false}}}},
{"data":{"name":"rl"},
"mark":{"type":"text","color":"#555555","fontSize":8,"align":"left","baseline":"middle"},
"encoding":{"x":{"field":"i","type":"quantitative"},"y":{"field":"r","type":"quantitative"},"text":{"field":"t"}}},
{"data":{"values":[{"i":1.7,"r":93.5,"t":"RSI (14)"}]},
"mark":{"type":"text","color":"#333333","fontSize":8,"align":"left","baseline":"middle"},
"encoding":{"x":{"field":"i","type":"quantitative"},"y":{"field":"r","type":"quantitative"},"text":{"field":"t"}}},
{"data":{"values":[{"i":421.9,"r":65.8298}]},
"mark":{"type":"point","shape":"M-1.57,-0.5L1.57,-0.5L1.57,0.5L-1.57,0.5Z","size":583,"filled":true,"color":"#000000","opacity":1},
"encoding":{"x":{"field":"i","type":"quantitative"},"y":{"field":"r","type":"quantitative"}}},
{"data":{"values":[{"i":421.9,"r":65.8298,"t":"65.8298"}]},
"mark":{"type":"text","color":"#ffffff","fontSize":8,"fontWeight":"bold","align":"center","baseline":"middle"},
"encoding":{"x":{"field":"i","type":"quantitative"},"y":{"field":"r","type":"quantitative"},"text":{"field":"t"}}}
]
}
]
}
